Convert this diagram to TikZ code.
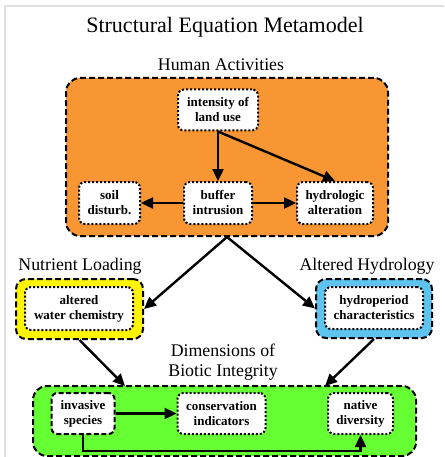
\documentclass[tikz,border=0pt]{standalone}
\usepackage{fontspec}
\setmainfont{Liberation Serif}
\usetikzlibrary{arrows.meta}

\definecolor{humanor}{RGB}{247,150,50}
\definecolor{nutrye}{RGB}{255,245,0}
\definecolor{hydrobl}{RGB}{95,195,240}
\definecolor{bioticgr}{RGB}{102,255,51}

\tikzset{
  grp/.style={draw, dashed, dash pattern=on 6pt off 3pt, line width=2pt, rounded corners=14pt, inner sep=0pt},
  var/.style={draw, fill=white, line width=2pt, dotted, rounded corners=6pt, inner sep=0pt, align=center,
    font=\fontsize{13}{15}\selectfont\bfseries},
  ttl/.style={font=\fontsize{17.8}{20}\selectfont, align=center},
  arr/.style={-{Triangle[length=12pt,width=11pt]}, line width=2.4pt}
}

\begin{document}
\begin{tikzpicture}[x=1pt,y=-1pt]
    \useasboundingbox (0,0) rectangle (444,457);
    \draw[black!12, line width=1.5pt] (5,457) -- (5,6) -- (444,6);

    \node (title) at (225,27) {\fontsize{22}{26}\selectfont Structural Equation Metamodel};
    \node[ttl] (hlab) at (221,65) {Human Activities};
    \node[ttl] (nlab) at (80,266) {Nutrient Loading};
    \node[ttl] (alab) at (367,266) {Altered Hydrology};
    \node[ttl] (blab) at (223,362) {Dimensions of\\Biotic Integrity};

    % groups
    \node[grp, fill=humanor, minimum width=322pt, minimum height=158pt] (human) at (227,157) {};
    \node[grp, fill=nutrye, minimum width=127pt, minimum height=60pt, rounded corners=10pt] (nutr) at (79.5,309) {};
    \node[grp, fill=hydrobl, minimum width=116pt, minimum height=59pt, rounded corners=10pt] (hydr) at (374,308.5) {};
    \node[grp, fill=bioticgr, minimum width=383pt, minimum height=70pt] (biot) at (224.5,421) {};

    % variables
    \node[var, minimum width=80pt, minimum height=41pt] (land) at (218,110) {intensity of\\land use};
    \node[var, minimum width=61pt, minimum height=42pt] (soil) at (109.5,203) {soil\\disturb.};
    \node[var, minimum width=68pt, minimum height=42pt] (buffer) at (218,203) {buffer\\intrusion};
    \node[var, minimum width=76pt, minimum height=42pt] (hydro) at (335,203) {hydrologic\\alteration};
    \node[var, minimum width=108pt, minimum height=43pt] (water) at (79,308.5) {altered\\water chemistry};
    \node[var, minimum width=98pt, minimum height=42pt] (period) at (374,308) {hydroperiod\\characteristics};
    \node[var, dotted=false, dashed, dash pattern=on 5pt off 2.5pt, minimum width=63pt, minimum height=41pt] (invasive) at (83,413.5) {invasive\\species};
    \node[var, minimum width=88pt, minimum height=41pt] (conserv) at (221.5,413.5) {conservation\\indicators};
    \node[var, minimum width=65pt, minimum height=41pt] (native) at (360.5,413.5) {native\\diversity};

    \coordinate (bin1) at (125,386);
    \coordinate (bin2) at (325,386);

    \draw[arr] (land.south) -- (buffer.north);
    \draw[arr] (land.south) -- (hydro.north);
    \draw[arr] (buffer.west) -- (soil.east);
    \draw[arr] (buffer.east) -- (hydro.west);
    \draw[arr] (human.south) -- (nutr.east);
    \draw[arr] (human.south) -- (hydr.west);
    \draw[arr] (nutr.south) -- (bin1);
    \draw[arr] (hydr.south) -- (bin2);
    \draw[arr] (invasive.east) -- (conserv.west);
    \draw[arr] (invasive.south) -- ++(0,16) -| (native.south);
\end{tikzpicture}
\end{document}
